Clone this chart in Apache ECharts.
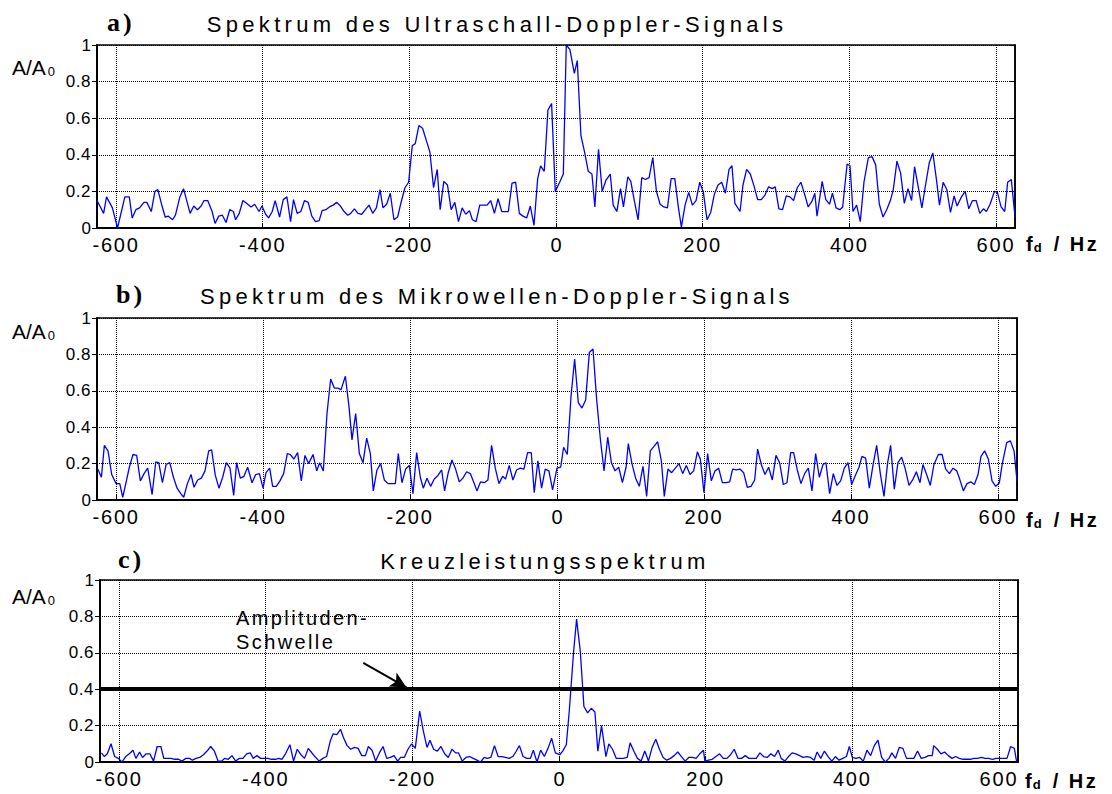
<!DOCTYPE html>
<html>
<head>
<meta charset="utf-8">
<script src="https://cdn.jsdelivr.net/npm/echarts@6/dist/echarts.min.js"></script>
<style>
html, body { margin: 0; padding: 0; background: #fff; }
#main { width: 1112px; height: 794px; }
</style>
</head>
<body>
<div id="main"></div>
<script>
// titles and tags of the three panels
var titles = ['Spektrum des Ultraschall-Doppler-Signals', 'Spektrum des Mikrowellen-Doppler-Signals', 'Kreuzleistungsspektrum']
var tags = ['a)', 'b)', 'c)']
var yName = 'A/A'
var xName = 'f'
var xUnit = ' / Hz'
var fRange = [-626, 626]

// [frequency in Hz, A/A0]
var specA = [[-626,.15],[-617,.08],[-613,.17],[-605,.11],[-598,0],[-588,.17],[-582,.17],[-578,.055],[-573,.10],[-568,.11],[-562,.14],[-558,.14],[-552,.09],[-547,.20],[-543,.21],[-538,.13],[-533,.06],[-529,.065],[-523,.045],[-519,.07],[-513,.17],[-508,.215],[-503,.14],[-499,.08],[-494,.12],[-489,.10],[-484,.12],[-480,.15],[-475,.15],[-469,.09],[-465,.025],[-460,.065],[-455,.07],[-450,.03],[-445,.10],[-440,.09],[-437,.045],[-432,.08],[-427,.15],[-422,.135],[-416,.115],[-411,.13],[-405,.09],[-401,.12],[-396,.075],[-392,.055],[-387,.09],[-383,.15],[-377,.06],[-372,.155],[-367,.17],[-362,.035],[-358,.155],[-353,.08],[-348,.09],[-343,.15],[-338,.14],[-333,.065],[-328,.035],[-323,.04],[-319,.095],[-314,.10],[-309,.115],[-304,.125],[-299,.14],[-294,.12],[-289,.09],[-284,.07],[-280,.08],[-275,.105],[-270,.08],[-265,.075],[-260,.10],[-255,.125],[-250,.08],[-245,.11],[-240,.21],[-236,.11],[-231,.13],[-226,.19],[-221,.045],[-216,.06],[-211,.145],[-206,.22],[-201,.25],[-196,.45],[-192,.46],[-187,.56],[-182,.545],[-177,.48],[-172,.415],[-167,.22],[-162,.32],[-158,.10],[-153,.255],[-148,.235],[-143,.10],[-138,.14],[-133,.035],[-128,.11],[-123,.075],[-118,.095],[-114,.045],[-109,.035],[-104,.125],[-99,.125],[-94,.125],[-89,.15],[-84,.08],[-79,.16],[-74,.09],[-69,.09],[-65,.09],[-60,.245],[-55,.25],[-50,.08],[-45,.065],[-40,.055],[-35,.12],[-30,.015],[-25,.27],[-21,.34],[-16,.31],[-11,.645],[-6,.68],[-1,.20],
  [5,.25],[10,.295],[14,1.0],[19,.975],[25,.845],[29,.915],[34,.505],[39,.415],[44,.31],[49,.295],[53,.115],[58,.43],[63,.20],[68,.26],[74,.295],[78,.125],[83,.09],[88,.215],[92,.115],[98,.28],[102,.255],[107,.145],[112,.045],[117,.275],[122,.265],[127,.275],[132,.385],[137,.20],[142,.13],[147,.115],[152,.11],[157,.27],[162,.27],[167,.11],[171,.005],[176,.125],[181,.195],[186,.125],[191,.15],[196,.25],[201,.195],[206,.045],[211,.085],[216,.185],[221,.235],[226,.25],[231,.19],[236,.32],[240,.34],[244,.135],[251,.09],[255,.235],[260,.32],[265,.295],[270,.23],[275,.155],[280,.155],[285,.18],[290,.225],[295,.215],[299,.225],[304,.105],[309,.10],[314,.175],[319,.17],[324,.15],[329,.22],[334,.25],[339,.185],[344,.115],[349,.145],[353,.19],[356,.065],[363,.255],[368,.155],[373,.13],[377,.19],[382,.11],[387,.10],[391,.115],[397,.35],[401,.34],[405,.09],[410,.125],[415,.035],[420,.25],[426,.385],[431,.39],[436,.345],[441,.13],[446,.06],[451,.10],[456,.15],[460,.21],[465,.365],[470,.30],[475,.135],[480,.215],[485,.15],[489,.335],[494,.225],[499,.11],[504,.235],[509,.355],[514,.41],[519,.26],[523,.125],[528,.25],[533,.21],[538,.085],[543,.175],[547,.12],[553,.17],[558,.20],[563,.105],[568,.15],[573,.15],[578,.08],[583,.105],[587,.09],[592,.13],[598,.20],[602,.195],[607,.115],[612,.09],[616,.25],[621,.265],[626,.06]]

var specB = [[-625,.17],[-620,.125],[-616,.30],[-611,.27],[-606,.14],[-600,.09],[-595,.09],[-591,.015],[-586,.105],[-582,.18],[-577,.25],[-572,.245],[-567,.105],[-562,.145],[-557,.175],[-551,.03],[-546,.21],[-542,.205],[-537,.095],[-532,.195],[-527,.205],[-522,.125],[-517,.065],[-512,.035],[-508,.015],[-503,.09],[-498,.14],[-494,.07],[-489,.11],[-484,.12],[-479,.16],[-474,.27],[-470,.275],[-465,.135],[-460,.065],[-455,.125],[-450,.205],[-445,.175],[-440,.025],[-436,.205],[-431,.12],[-426,.13],[-421,.18],[-415,.095],[-410,.14],[-405,.145],[-400,.065],[-396,.15],[-391,.175],[-387,.075],[-382,.075],[-377,.105],[-372,.145],[-367,.255],[-363,.25],[-358,.225],[-353,.26],[-348,.105],[-343,.245],[-338,.20],[-332,.25],[-327,.16],[-323,.205],[-318,.16],[-313,.475],[-308,.665],[-303,.615],[-298,.615],[-294,.605],[-288,.68],[-283,.51],[-279,.33],[-274,.475],[-269,.255],[-264,.205],[-259,.34],[-254,.255],[-250,.05],[-245,.165],[-240,.20],[-235,.11],[-230,.09],[-225,.09],[-220,.09],[-216,.255],[-211,.095],[-206,.17],[-201,.19],[-196,.035],[-191,.26],[-186,.125],[-182,.065],[-177,.12],[-172,.075],[-167,.115],[-162,.135],[-157,.165],[-153,.05],[-148,.15],[-143,.22],[-138,.17],[-133,.10],[-128,.12],[-123,.155],[-118,.145],[-113,.095],[-109,.05],[-104,.10],[-99,.095],[-94,.11],[-89,.30],[-84,.175],[-79,.09],[-74,.13],[-70,.115],[-65,.19],[-60,.11],[-55,.165],[-50,.175],[-45,.17],[-40,.26],[-35,.26],[-31,.04],[-26,.215],[-21,.065],[-16,.17],[-11,.16],[-6,.055],
  [0,.175],[5,.18],[9,.29],[14,.25],[19,.565],[24,.775],[29,.535],[34,.505],[39,.55],[44,.81],[49,.83],[54,.55],[59,.335],[64,.16],[69,.345],[74,.205],[79,.16],[84,.18],[89,.095],[94,.18],[97,.31],[102,.20],[107,.12],[112,.075],[117,.185],[122,.02],[127,.27],[132,.295],[137,.32],[142,.215],[146,.02],[151,.17],[156,.15],[161,.175],[166,.20],[171,.145],[176,.19],[181,.14],[186,.16],[191,.265],[195,.225],[200,.04],[205,.255],[210,.105],[215,.16],[220,.175],[225,.095],[230,.095],[235,.10],[239,.17],[244,.165],[249,.17],[254,.15],[259,.07],[264,.075],[269,.11],[273,.28],[278,.195],[283,.14],[288,.18],[293,.11],[298,.245],[303,.205],[308,.085],[313,.095],[318,.26],[322,.26],[327,.165],[332,.09],[337,.145],[342,.175],[347,.05],[352,.255],[357,.125],[362,.195],[366,.205],[371,.035],[376,.145],[381,.08],[386,.105],[391,.175],[396,.205],[401,.085],[406,.135],[411,.18],[415,.24],[420,.23],[425,.065],[430,.19],[435,.30],[440,.145],[445,.02],[450,.205],[454,.30],[459,.06],[464,.205],[469,.235],[474,.17],[479,.08],[484,.11],[489,.155],[494,.095],[498,.195],[503,.14],[508,.08],[513,.195],[519,.25],[524,.25],[529,.17],[534,.145],[539,.175],[544,.16],[548,.115],[553,.05],[558,.09],[563,.10],[568,.085],[573,.14],[577,.24],[582,.27],[587,.225],[592,.105],[597,.075],[602,.095],[606,.20],[612,.315],[617,.325],[622,.27],[626,.105]]

var specC = [[-624,.05],[-620,.03],[-616,.045],[-611,.10],[-606,.03],[-601,.02],[-596,0],[-591,.03],[-586,.045],[-581,.065],[-577,.02],[-572,.055],[-568,.025],[-563,.045],[-558,.045],[-553,.005],[-548,.085],[-543,.085],[-539,.02],[-534,.02],[-529,.02],[-524,.015],[-519,.015],[-514,.005],[-509,.02],[-504,.02],[-500,.01],[-495,.02],[-490,.025],[-485,.04],[-480,.06],[-475,.085],[-470,.06],[-465,.005],[-460,.005],[-456,.02],[-451,.015],[-446,.035],[-441,.005],[-436,.02],[-431,.02],[-426,.045],[-421,.05],[-417,.02],[-412,.035],[-407,.02],[-402,.02],[-397,.02],[-392,.015],[-387,.015],[-382,.02],[-378,.015],[-373,.045],[-367,.095],[-362,.005],[-357,.07],[-352,.04],[-347,.02],[-342,.075],[-338,.055],[-333,.03],[-327,.005],[-322,.02],[-317,.03],[-312,.115],[-308,.155],[-303,.15],[-298,.18],[-294,.135],[-289,.09],[-284,.07],[-279,.08],[-274,.075],[-269,.035],[-264,.035],[-260,.085],[-255,.065],[-250,.005],[-245,.05],[-240,.085],[-235,.02],[-230,.025],[-225,.035],[-220,.005],[-216,.025],[-211,.025],[-206,.07],[-201,.10],[-196,.075],[-190,.28],[-185,.17],[-180,.08],[-176,.12],[-171,.07],[-166,.06],[-161,.085],[-156,.045],[-151,.025],[-146,.07],[-141,.05],[-137,.05],[-132,.005],[-127,.025],[-122,.03],[-117,.02],[-112,.01],[-107,0],[-102,.025],[-98,.02],[-93,.025],[-88,.09],[-83,.03],[-78,.03],[-73,.025],[-68,.02],[-63,.03],[-59,.055],[-54,.09],[-49,.03],[-44,.02],[-39,.02],[-35,.065],[-30,0],[-25,.065],[-20,.03],[-15,.075],[-10,.13],[-5,.05],
  [1,.04],[5,.06],[10,.095],[14,.28],[20,.61],[24,.785],[29,.61],[34,.305],[39,.27],[44,.295],[49,.275],[53,.06],[58,.20],[64,.03],[68,.10],[73,.07],[78,.02],[83,.02],[88,.02],[93,.025],[97,.105],[102,.06],[107,.02],[112,.005],[117,.06],[122,.005],[127,.08],[132,.125],[137,.07],[142,.025],[147,.01],[152,.02],[157,.035],[162,.055],[167,.03],[172,.005],[177,.025],[182,.025],[187,.02],[192,.045],[197,.065],[199,.005],[204,.01],[209,.015],[214,.03],[219,.045],[224,.02],[229,.02],[234,.04],[239,.07],[244,.02],[249,.02],[254,.035],[259,.02],[264,.02],[269,.02],[274,.05],[279,.03],[284,.025],[289,.045],[294,.03],[299,.065],[303,.02],[308,.005],[313,.03],[318,.05],[323,.045],[328,.035],[333,.025],[338,.03],[343,.025],[348,.01],[352,.055],[357,.02],[362,.06],[367,.03],[372,.005],[377,.03],[382,.01],[387,.02],[392,.03],[396,.085],[400,.025],[405,.02],[410,.025],[415,.005],[420,.065],[425,.035],[430,.09],[435,.12],[440,.025],[445,0],[450,.02],[454,.05],[459,.02],[464,.08],[469,.075],[474,.02],[479,.02],[484,.02],[489,.06],[494,.02],[499,.025],[504,.035],[509,.035],[511,.09],[516,.07],[521,.045],[526,.055],[531,.035],[536,.02],[541,.03],[546,.02],[551,.015],[556,.015],[561,.015],[566,.02],[571,.02],[576,.025],[581,.02],[586,.02],[591,.015],[596,.02],[601,.02],[606,.02],[611,.02],[616,.085],[621,.075],[624,.005]]

var threshold = 0.4
var threshLabel = ['Amplituden-', 'Schwelle']
var arrowFrom = [-267, 0.545]
var arrowTo = [-208, 0.41]

var spectra = [specA, specB, specC]

// layout (pixels)
var grids = [
    {left: 97, top: 45, width: 918, height: 183},
    {left: 97, top: 318, width: 920, height: 182},
    {left: 100, top: 580, width: 918, height: 182}
]
var titleX = [497, 497, 545]
var titleY = [24, 296, 561]
var tagX = [107, 116, 118]
var yNameY = [67, 331, 596]
var xNameX = [1026, 1026, 1025]
var xNameY = [244, 520, 781]

var SANS = '"Liberation Sans", Arial, sans-serif'
var SERIF = '"Liberation Serif", "Times New Roman", serif'

var xAxes = [], yAxes = [], series = [], graphics = []
for (var i = 0; i < 3; i++){
    grids[i].show = true
    grids[i].borderColor = '#000'
    grids[i].borderWidth = 1.5
    grids[i].backgroundColor = '#fff'
    xAxes.push({
        gridIndex: i, type: 'value', min: fRange[0], max: fRange[1], splitNumber: 6,
        axisLine: {show: true, onZero: false, lineStyle: {color: '#000', width: 2}},
        axisTick: {show: true, inside: true, length: 5, lineStyle: {color: '#000'}},
        axisLabel: {color: '#000', fontSize: 20, fontFamily: SANS, margin: 7,
                    showMinLabel: false, showMaxLabel: false},
        splitLine: {show: true, lineStyle: {color: '#000', type: 'dotted', width: 1}}
    })
    yAxes.push({
        gridIndex: i, type: 'value', min: 0, max: 1, interval: 0.2,
        axisLine: {show: true, onZero: false, lineStyle: {color: '#000', width: 2}},
        axisTick: {show: true, inside: false, length: 5, lineStyle: {color: '#000'}},
        axisLabel: {color: '#000', fontSize: 17, fontFamily: SANS, margin: 6},
        splitLine: {show: true, lineStyle: {color: '#000', type: 'dotted', width: 1}}
    })
    yAxes.push({
        gridIndex: i, type: 'value', min: 0, max: 1, interval: 0.2, position: 'right',
        axisLine: {show: true, onZero: false, lineStyle: {color: '#000', width: 1.5}},
        axisTick: {show: true, inside: true, length: 6, lineStyle: {color: '#000'}},
        axisLabel: {show: false},
        splitLine: {show: false}
    })
    var s = {
        type: 'line', xAxisIndex: i, yAxisIndex: i * 2,
        data: spectra[i], showSymbol: false, symbol: 'none',
        lineStyle: {color: '#0000ff', width: 1.3},
        z: 3
    }
    if (i === 2){
        s.markLine = {
            silent: true, symbol: ['none', 'none'], animation: false,
            label: {show: false},
            lineStyle: {color: '#000', width: 2, type: 'solid'},
            data: [
                {yAxis: threshold, lineStyle: {color: '#000', width: 4, type: 'solid'}},
                [{coord: arrowFrom, symbol: 'none'}, {coord: arrowTo, symbol: 'arrow', symbolSize: [12, 16]}]
            ]
        }
    }
    series.push(s)

    graphics.push({type: 'text', x: tagX[i], y: titleY[i] - 2, style: {
        text: tags[i], font: 'bold 26px ' + SERIF, fill: '#000',
        textAlign: 'left', textVerticalAlign: 'middle'}})
    graphics.push({type: 'text', x: titleX[i], y: titleY[i], style: {
        text: titles[i], font: '22px ' + SANS, fill: '#000',
        textAlign: 'center', textVerticalAlign: 'middle'}})
    graphics.push({type: 'text', x: 12, y: yNameY[i], style: {
        text: '{m|' + yName + '}{s|0}', fill: '#000',
        textAlign: 'left', textVerticalAlign: 'middle',
        rich: {
            m: {fontSize: 21, fontFamily: SANS, lineHeight: 22, fill: '#000'},
            s: {fontSize: 13, fontFamily: SANS, lineHeight: 6, verticalAlign: 'bottom', fill: '#000', padding: [0, 0, 0, 2]}
        }}})
    graphics.push({type: 'text', x: xNameX[i], y: xNameY[i], style: {
        text: '{m|' + xName + '}{s|d}{u|' + xUnit + '}', fill: '#000',
        textAlign: 'left', textVerticalAlign: 'middle',
        rich: {
            m: {fontSize: 20, fontWeight: 'bold', fontFamily: SANS, lineHeight: 20, fill: '#000'},
            s: {fontSize: 13, fontWeight: 'bold', fontFamily: SANS, lineHeight: 6, verticalAlign: 'bottom', fill: '#000', padding: [0, 0, 0, 1]},
            u: {fontSize: 20, fontWeight: 'bold', fontFamily: SANS, lineHeight: 20, fill: '#000', padding: [0, 0, 0, 4]}
        }}})
}
graphics.push({type: 'text', x: 236, y: 618, style: {
    text: threshLabel[0], font: '20px ' + SANS, fill: '#000', textAlign: 'left', textVerticalAlign: 'middle'}})
graphics.push({type: 'text', x: 236, y: 642, style: {
    text: threshLabel[1], font: '20px ' + SANS, fill: '#000', textAlign: 'left', textVerticalAlign: 'middle'}})

var option = {
    animation: false,
    backgroundColor: '#fff',
    grid: grids,
    xAxis: xAxes,
    yAxis: yAxes,
    series: series,
    graphic: graphics
}

var chart = echarts.init(document.getElementById('main'), null, {renderer: 'svg'})
chart.setOption(option)

// the figure is set with wide letter spacing
function spaceText(){
    var wide = {}
    titles.forEach(function(t){ wide[t] = 4.3 })
    wide[threshLabel[0]] = 2.4
    wide[threshLabel[1]] = 2.4
    wide[xUnit] = 2.5
    tags.forEach(function(t){ wide[t] = 3 })
    var nodes = document.querySelectorAll('#main svg text')
    for (var n of nodes){
        var t = n.textContent
        var ls = wide[t]
        if (ls == null && /^-?[0-9.]+$/.test(t) && t.length > 1){ ls = t.indexOf('.') >= 0 ? 0.5 : 1.8 }
        if (ls) n.setAttribute('letter-spacing', ls)
    }
}
spaceText()
chart.on('finished', spaceText)
</script>
</body>
</html>
